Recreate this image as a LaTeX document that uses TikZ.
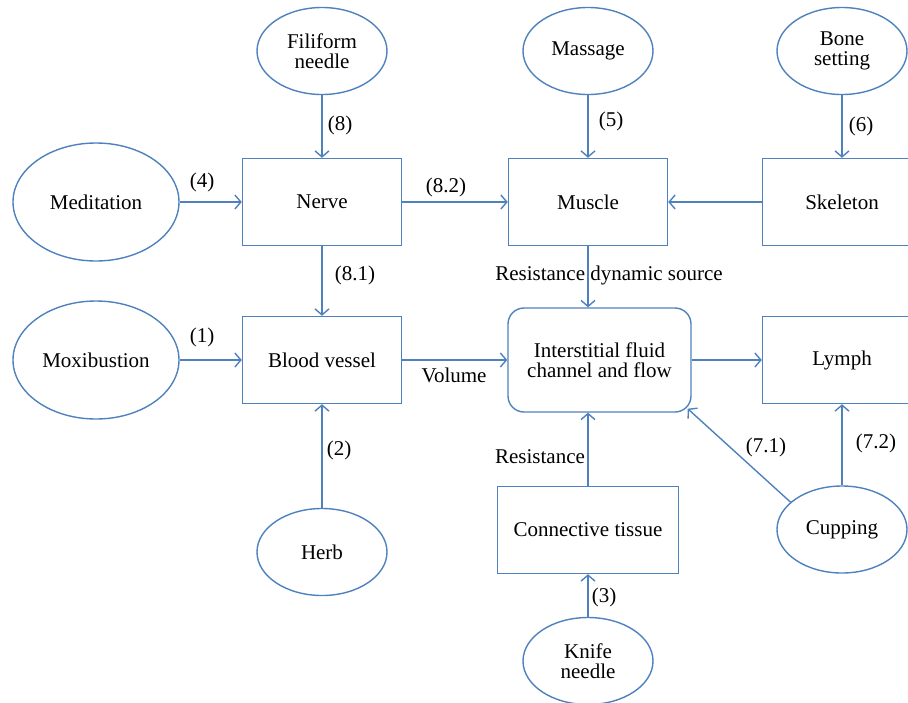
\documentclass[tikz,border=0pt]{standalone}
\usepackage{fontspec}
\setmainfont{Liberation Serif}
\usetikzlibrary{arrows.meta,shapes.geometric,calc}
\definecolor{lblue}{RGB}{79,129,189}
\begin{document}
\begin{tikzpicture}[x=1pt,y=-1pt,
  every node/.style={font=\fontsize{21}{20}\selectfont, text=black},
  elli/.style={ellipse, draw=lblue, line width=1.4pt, minimum width=130pt, minimum height=87pt, inner sep=0pt, align=center},
  bigelli/.style={elli, minimum width=166pt, minimum height=118pt},
  boxn/.style={rectangle, draw=lblue, line width=1.4pt, minimum width=159pt, minimum height=87pt, inner sep=0pt, align=center},
  conn/.style={draw=lblue, line width=1.4pt, -{Straight Barb[length=6pt,width=14pt]}},
  lab/.style={inner sep=1pt}
]
\useasboundingbox (0,0) rectangle (908,702);
\clip (0,0) rectangle (908,702);

% nodes
\node[elli] (fil) at (322,51) {Filiform\\needle};
\node[elli] (mas) at (588,51) {Massage};
\node[elli] (bone) at (842,51) {Bone\\setting};
\node[bigelli] (med) at (96,202) {Meditation};
\node[boxn] (nerve) at (322,202) {Nerve};
\node[boxn] (mus) at (588,202) {Muscle};
\node[boxn] (skel) at (842,202) {Skeleton};
\node[bigelli] (mox) at (96,360) {Moxibustion};
\node[boxn] (blood) at (322,360) {Blood vessel};
\node[boxn, rounded corners=16pt, minimum width=183pt, minimum height=104pt] (inter) at (599.5,360) {Interstitial fluid\\channel and flow};
\node[boxn] (lymph) at (842,360) {Lymph};
\node[elli] (herb) at (322,552) {Herb};
\node[boxn, minimum width=181pt] (ct) at (588,530) {Connective tissue};
\node[elli] (cup) at (842,529.5) {Cupping};
\node[elli] (knife) at (588,661) {Knife\\needle};
\coordinate (intercorner) at ($(inter.south east)+(-4,-4)$);

% connectors
\draw[conn] (fil) -- (nerve);
\draw[conn] (mas) -- (mus);
\draw[conn] (bone) -- (skel);
\draw[conn] (med) -- (nerve);
\draw[conn] (nerve) -- (mus);
\draw[conn] (skel) -- (mus);
\draw[conn] (nerve) -- (blood);
\draw[conn] (mus) -- (mus |- inter.north);
\draw[conn] (mox) -- (blood);
\draw[conn] (blood) -- (inter);
\draw[conn] (herb) -- (blood);
\draw[conn] (inter) -- (lymph);
\draw[conn] (ct) -- (ct |- inter.south);
\draw[conn] (knife) -- (ct);
\draw[conn] (cup.152) -- (intercorner);
\draw[conn] (cup) -- (lymph);

% labels
\node[lab] (l8) at (340,125) {(8)};
\node[lab] (l5) at (611,121) {(5)};
\node[lab] (l6) at (861,126) {(6)};
\node[lab] (l4) at (202,182) {(4)};
\node[lab] (l82) at (446,187) {(8.2)};
\node[lab] (l81) at (355,275) {(8.1)};
\node[lab] (lrds) at (609,275) {Resistance dynamic source};
\node[lab] (l1) at (202,337) {(1)};
\node[lab] (lvol) at (454,375) {Volume};
\node[lab] (l2) at (339,450) {(2)};
\node[lab] (lres) at (540,457) {Resistance};
\node[lab] (l71) at (766,447) {(7.1)};
\node[lab] (l72) at (876,443) {(7.2)};
\node[lab] (l3) at (604,597) {(3)};
\end{tikzpicture}
\end{document}
